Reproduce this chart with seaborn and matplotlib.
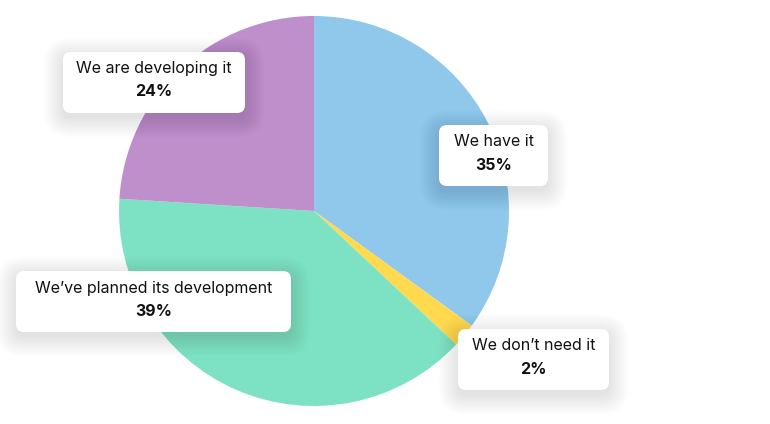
import matplotlib
matplotlib.use("Agg")
import matplotlib.pyplot as plt
import seaborn as sns
from matplotlib.patches import FancyBboxPatch
from matplotlib.transforms import IdentityTransform

sns.set_style("white")
plt.rcParams['font.family'] = ['Inter', 'DejaVu Sans']

# Data
categories = ["We have it", "We don\u2019t need it", "We\u2019ve planned its development", "We are developing it"]
shares = [35, 2, 39, 24]
colors = ["#8FC8EB", "#FFDA4F", "#7DE2C4", "#BF8FCB"]

# label box layout in pixels (left, top, right, bottom)
boxes = [(439, 125, 548, 186), (458, 329, 609, 390), (16, 271, 291, 332), (63, 52, 245, 113)]

W, H = 770, 424
fig = plt.figure(figsize=(W / 100, H / 100), dpi=100)
ax = fig.add_axes([119 / W, (H - 406) / H, 390 / W, 390 / H])
ax.pie(shares, colors=colors, startangle=90, counterclock=False, radius=1,
       wedgeprops=dict(linewidth=0))
ax.set_xlim(-1, 1)
ax.set_ylim(-1, 1)
ax.set_aspect('equal')
ax.axis('off')

ident = IdentityTransform()


def draw_label(box, name, value):
    l, t, r, b = box
    x0, y0 = l, H - b
    w, h = r - l, b - t
    # soft shadow
    for i in range(14):
        grow = i * 1.5
        sh = FancyBboxPatch((x0 - grow, y0 - 5 - grow), w + 2 * grow, h + 2 * grow,
                            boxstyle=f"round,pad=0,rounding_size={8 + grow}",
                            transform=ident, facecolor='black', edgecolor='none',
                            alpha=0.007, zorder=5)
        fig.add_artist(sh)
    patch = FancyBboxPatch((x0, y0), w, h, boxstyle="round,pad=0,rounding_size=8",
                           transform=ident, facecolor='white', edgecolor='none', zorder=6)
    fig.add_artist(patch)
    cx = (l + r) / 2
    fig.text(cx, H - (t + 17), name, transform=ident, ha='center', va='center',
             fontsize=11.5, color='#111111', zorder=7)
    fig.text(cx, H - (t + 40), f"{value}%", transform=ident, ha='center', va='center',
             fontsize=11.5, fontweight='bold', color='#111111', zorder=7)


for box, name, value in zip(boxes, categories, shares):
    draw_label(box, name, value)

fig.savefig("out.png", dpi=100)
